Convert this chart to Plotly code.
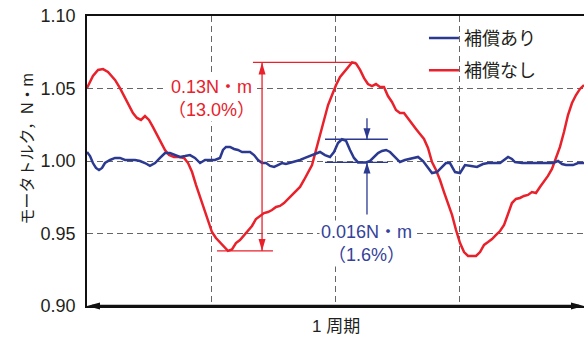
import plotly.graph_objects as go

# Phase over one period (electrical degrees) and motor torque (N·m)
phase_nocomp = [
    0.0, 4.3, 8.0, 11.6, 15.2, 20.3, 23.9, 27.5, 31.2, 33.3, 36.2, 39.1, 42.0, 44.9,
    47.8, 50.7, 53.6, 56.5, 59.4, 63.0, 66.6, 70.3, 73.2, 76.1, 79.0, 81.9, 84.8, 87.7,
    90.5, 93.4, 96.3, 99.2, 102.1, 105.0, 107.9, 110.8, 113.7, 116.6, 119.5, 122.4,
    125.3, 128.2, 131.1, 134.0, 136.9, 139.8, 142.7, 145.6, 148.5, 151.4, 154.3, 157.2,
    160.1, 163.0, 165.9, 168.8, 171.7, 174.6, 177.5, 180.4, 183.3, 186.2, 189.1, 192.0,
    194.9, 197.8, 200.7, 203.5, 206.4, 209.3, 212.2, 215.1, 218.0, 220.9, 223.8, 226.7,
    229.6, 232.5, 235.4, 238.3, 241.2, 244.1, 247.0, 249.9, 252.8, 255.7, 258.6, 261.5,
    264.4, 267.3, 270.2, 273.1, 276.0, 278.9, 281.8, 284.7, 287.6, 290.5, 293.4, 296.3,
    299.2, 302.1, 305.0, 307.8, 310.7, 313.6, 316.5, 319.4, 322.3, 325.2, 328.1, 331.0,
    333.9, 336.8, 339.7, 342.6, 345.5, 348.4, 351.3, 354.2, 357.1, 360.0,
]
torque_nocomp = [
    1.0503, 1.0586, 1.0628, 1.0634, 1.0614, 1.0559, 1.0503, 1.0441, 1.0372, 1.0331,
    1.0297, 1.0283, 1.0310, 1.0283, 1.0234, 1.0179, 1.0124, 1.0076, 1.0041, 1.0028,
    1.0028, 1.0021, 0.9986, 0.9924, 0.9834, 0.9752, 0.9662, 0.9579, 0.9510, 0.9469,
    0.9441, 0.9414, 0.9380, 0.9390, 0.9434, 0.9455, 0.9490, 0.9524, 0.9552, 0.9600,
    0.9621, 0.9641, 0.9648, 0.9662, 0.9683, 0.9690, 0.9710, 0.9738, 0.9766, 0.9793,
    0.9821, 0.9869, 0.9924, 0.9972, 1.0076, 1.0179, 1.0283, 1.0386, 1.0455, 1.0524,
    1.0579, 1.0614, 1.0641, 1.0680, 1.0672, 1.0628, 1.0572, 1.0531, 1.0517, 1.0531,
    1.0510, 1.0510, 1.0448, 1.0407, 1.0352, 1.0331, 1.0331, 1.0297, 1.0255, 1.0221,
    1.0186, 1.0152, 1.0090, 0.9993, 0.9938, 0.9869, 0.9786, 0.9710, 0.9628, 0.9524,
    0.9434, 0.9372, 0.9345, 0.9345, 0.9345, 0.9372, 0.9421, 0.9441, 0.9462, 0.9490,
    0.9517, 0.9559, 0.9641, 0.9710, 0.9738, 0.9745, 0.9759, 0.9766, 0.9786, 0.9779,
    0.9821, 0.9855, 0.9897, 0.9945, 1.0028, 1.0097, 1.0200, 1.0317, 1.0400, 1.0455,
    1.0497, 1.0524,
]

phase_comp = [
    0.0, 2.2, 4.3, 6.5, 8.7, 10.9, 13.0, 16.7, 20.3, 23.9, 27.5, 34.8, 38.4, 42.0,
    45.6, 49.3, 52.9, 56.5, 60.1, 63.7, 67.4, 71.0, 74.6, 78.2, 81.9, 85.5, 92.7, 96.3,
    98.5, 100.7, 103.6, 106.5, 109.4, 112.3, 118.1, 121.0, 123.9, 126.8, 129.7, 132.6,
    135.5, 138.3, 141.2, 144.1, 147.0, 150.7, 154.3, 157.9, 161.5, 165.2, 168.8, 172.4,
    176.0, 178.9, 181.8, 184.7, 187.6, 190.5, 193.4, 196.3, 199.2, 202.1, 205.0, 207.9,
    210.8, 213.7, 216.6, 219.5, 222.4, 226.7, 230.3, 234.0, 239.8, 243.4, 247.0, 249.9,
    253.5, 257.1, 260.0, 262.9, 266.6, 270.2, 273.8, 278.2, 282.5, 286.8, 290.5, 299.2,
    302.1, 305.0, 307.8, 310.0, 315.1, 337.5, 341.2, 344.1, 347.0, 352.0, 355.7, 360.0,
]
torque_comp = [
    1.0062, 1.0034, 0.9986, 0.9952, 0.9938, 0.9952, 0.9986, 1.0007, 1.0021, 1.0021,
    1.0007, 1.0007, 1.0000, 0.9986, 0.9966, 0.9986, 1.0021, 1.0055, 1.0055, 1.0041,
    1.0028, 1.0034, 1.0041, 1.0021, 0.9986, 1.0007, 1.0007, 1.0021, 1.0076, 1.0097,
    1.0097, 1.0083, 1.0076, 1.0062, 1.0062, 1.0041, 1.0007, 0.9986, 0.9986, 0.9966,
    0.9959, 0.9972, 0.9986, 0.9979, 0.9986, 0.9993, 1.0007, 1.0021, 1.0034, 1.0048,
    1.0062, 1.0041, 1.0028, 1.0062, 1.0124, 1.0150, 1.0140, 1.0076, 1.0021, 0.9990,
    0.9990, 0.9990, 1.0000, 1.0028, 1.0055, 1.0069, 1.0076, 1.0062, 1.0034, 0.9993,
    1.0007, 1.0014, 1.0028, 1.0000, 0.9952, 0.9917, 0.9924, 0.9959, 0.9986, 0.9986,
    0.9924, 0.9917, 0.9972, 0.9966, 0.9959, 0.9979, 0.9986, 0.9986, 1.0007, 1.0028,
    1.0014, 0.9993, 0.9986, 0.9986, 1.0000, 0.9979, 0.9972, 0.9972, 0.9986, 0.9986,
]

y_ticks = [0.90, 0.95, 1.00, 1.05, 1.10]
series_names = ["補償あり", "補償なし"]
rated_torque = 1.00

RED = "#e8212b"
BLUE = "#2b3990"
INK = "#231f20"
FONT = "Liberation Sans, Arial, Noto Sans CJK JP, sans-serif"

# Ripple spans used by the dimension markers
red_peak = max(torque_nocomp)
red_trough = min(torque_nocomp[: len(torque_nocomp) // 2])
blue_peak = max(torque_comp)
blue_trough = 0.9990
red_span = red_peak - red_trough
blue_span = blue_peak - blue_trough

fig = go.Figure()
fig.add_trace(go.Scatter(
    x=phase_nocomp, y=torque_nocomp, mode="lines", name=series_names[1],
    line=dict(color=RED, width=2.5), legendrank=2, legendgroup="b",
))
fig.add_trace(go.Scatter(
    x=phase_comp, y=torque_comp, mode="lines", name=series_names[0],
    line=dict(color=BLUE, width=2.5), legendrank=1, legendgroup="a",
))


def arrowhead(x, y, direction, color, xref="x", yref="y", length=12, half=3.5):
    paths = {
        "up": f"M0,0 L{-half},{-length} L{half},{-length} Z",
        "down": f"M0,0 L{-half},{length} L{half},{length} Z",
        "left": f"M0,0 L{length},{half} L{length},{-half} Z",
        "right": f"M0,0 L{-length},{half} L{-length},{-half} Z",
    }
    return dict(type="path", xref=xref, yref=yref, xsizemode="pixel", ysizemode="pixel",
                xanchor=x, yanchor=y, path=paths[direction], fillcolor=color,
                line=dict(width=0), layer="above")


shapes = []
# Time axis drawn as a double-headed arrow
shapes.append(dict(type="line", xref="paper", yref="paper", x0=0.01, x1=0.99, y0=0, y1=0,
                   line=dict(color="#111", width=2.5), layer="above"))
shapes.append(arrowhead(0, 0, "left", "#111", "paper", "paper", length=13))
shapes.append(arrowhead(1, 0, "right", "#111", "paper", "paper", length=13))

# Peak-to-peak marker for the uncompensated torque
red_x = 126.8
shapes += [
    dict(type="line", x0=120.2, x1=194.8, y0=red_peak, y1=red_peak, line=dict(color=RED, width=1.3)),
    dict(type="line", x0=94.2, x1=134.7, y0=red_trough, y1=red_trough, line=dict(color=RED, width=1.3)),
    dict(type="line", x0=red_x, x1=red_x, y0=red_trough, y1=red_peak, line=dict(color=RED, width=1.3)),
    arrowhead(red_x, red_peak, "up", RED),
    arrowhead(red_x, red_trough, "down", RED),
]

# Peak-to-peak marker for the compensated torque
blue_x = 202.8
shapes += [
    dict(type="line", x0=172.4, x1=218.0, y0=blue_peak, y1=blue_peak, line=dict(color=BLUE, width=1.3)),
    dict(type="line", x0=172.4, x1=218.0, y0=blue_trough, y1=blue_trough, line=dict(color=BLUE, width=1.3)),
    dict(type="line", xref="x", yref="y", ysizemode="pixel", yanchor=blue_peak, x0=blue_x, x1=blue_x,
         y0=0, y1=21, line=dict(color=BLUE, width=1.3)),
    dict(type="line", xref="x", yref="y", ysizemode="pixel", yanchor=blue_trough, x0=blue_x, x1=blue_x,
         y0=0, y1=-52, line=dict(color=BLUE, width=1.3)),
    arrowhead(blue_x, blue_peak, "down", BLUE, length=11),
    arrowhead(blue_x, blue_trough, "up", BLUE, length=11),
]

annotations = [
    dict(x=90, y=1.0428, xref="x", yref="y", showarrow=False, bgcolor="white",
         text=f"{red_span:.2f}N・m<br>（{red_span / rated_torque * 100:.1f}%）",
         font=dict(size=18, color=RED, family=FONT)),
    dict(x=blue_x, y=0.9428, xref="x", yref="y", showarrow=False, bgcolor="white",
         text=f"{blue_span:.3f}N・m<br>（{blue_span / rated_torque * 100:.1f}%）",
         font=dict(size=18, color="#34429a", family=FONT)),
    dict(x=0.5, y=-0.072, xref="paper", yref="paper", showarrow=False, yanchor="middle",
         text="1 周期", font=dict(size=17, color=INK, family=FONT)),
    dict(x=-0.141, y=0.541, xref="paper", yref="paper", showarrow=False, textangle=-90,
         text="モータトルク，N・m", font=dict(size=16, color=INK, family=FONT)),
]

grid = dict(showgrid=True, gridcolor="#666", gridwidth=1.2, griddash="6px,4px", zeroline=False)

fig.update_layout(
    width=584, height=340,
    margin=dict(l=87, r=0, t=16, b=34),
    paper_bgcolor="white", plot_bgcolor="white",
    font=dict(family=FONT, color=INK),
    showlegend=True,
    legend=dict(x=0.678, y=0.987, xanchor="left", yanchor="top", bgcolor="rgba(0,0,0,0)",
                font=dict(size=18, color=INK, family=FONT), tracegroupgap=6),
    shapes=shapes,
    annotations=annotations,
    xaxis=dict(range=[0, 360], tickvals=[90, 180, 270], showticklabels=False, ticks="",
               showline=True, mirror=True, linecolor="#111", linewidth=1.5, **grid),
    yaxis=dict(range=[0.90, 1.10], tickvals=y_ticks, ticktext=[f"{v:.2f}" for v in y_ticks],
               ticks="", ticklabelstandoff=6, tickfont=dict(size=18, color=INK, family=FONT),
               showline=True, linecolor="#111", linewidth=1.5, **grid),
)

fig.write_html("out.html")
